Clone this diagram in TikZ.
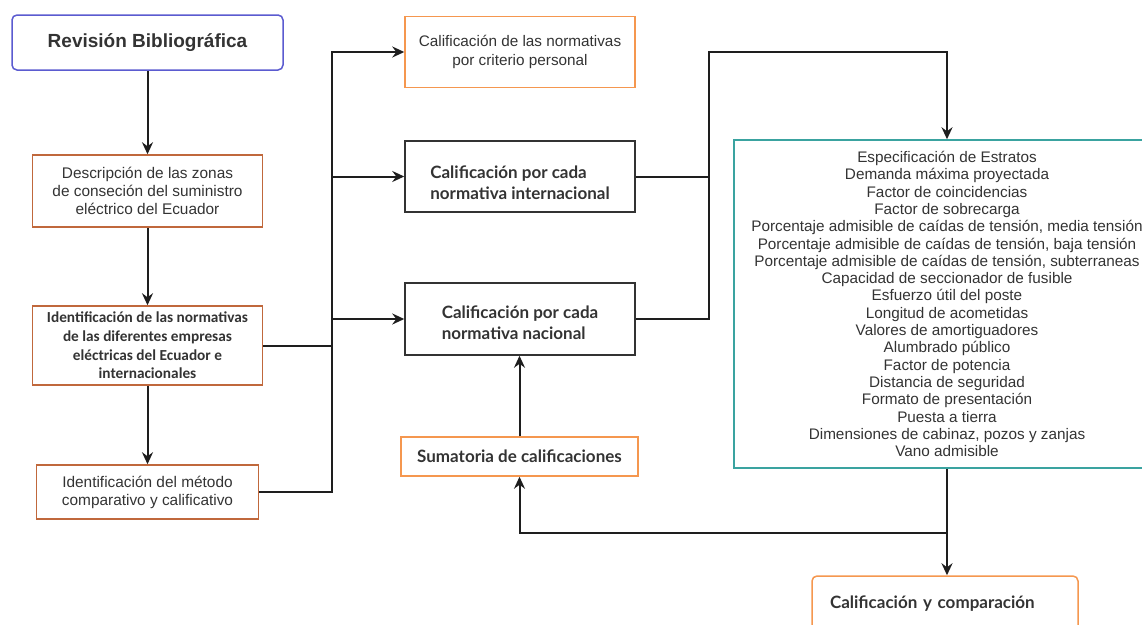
\documentclass[tikz,border=0pt]{standalone}
\usepackage{fontspec}
\setmainfont{Liberation Sans}
\newfontfamily\carlito{Carlito}
\newfontfamily\lato{Lato}
\usetikzlibrary{arrows.meta,positioning,calc}
\definecolor{revc}{HTML}{5B5BD0}
\definecolor{brownc}{HTML}{C0683C}
\definecolor{orangec}{HTML}{F5974F}
\definecolor{darkc}{HTML}{1E1E1E}
\definecolor{boxdark}{HTML}{333333}
\definecolor{tealc}{HTML}{3AA3A0}
\definecolor{txt}{HTML}{333333}
\tikzset{
  boxbase/.style={rectangle, line width=1.5pt, inner sep=2pt, text=txt, align=center},
  revbox/.style={boxbase, draw=revc, rounded corners=5pt, font=\fontsize{19}{22}\selectfont\bfseries},
  brownbox/.style={boxbase, draw=brownc, font=\fontsize{15.4}{18}\selectfont},
  brownbold/.style={boxbase, draw=brownc, font=\fontsize{15.3}{18.7}\selectfont\carlito\bfseries},
  orangebox/.style={boxbase, draw=orangec, font=\fontsize{15.3}{19}\selectfont},
  orangebold/.style={boxbase, draw=orangec, font=\fontsize{17}{20}\selectfont\lato\bfseries},
  darkbold/.style={boxbase, draw=boxdark, font=\fontsize{17}{21}\selectfont\lato\bfseries, align=left},
  tealbox/.style={boxbase, draw=tealc, font=\fontsize{15.3}{17.3}\selectfont},
  conn/.style={line width=2pt, draw=darkc},
  arr/.style={conn, -{Stealth[length=12pt,width=11pt,inset=4pt]}},
}
\begin{document}
\begin{tikzpicture}[x=1pt,y=-1pt]
\useasboundingbox (0,0) rectangle (1142,624);
\clip (0,0) rectangle (1142,624);
\node[revbox, minimum width=271pt, minimum height=55pt] (rev) at (147.5,42.5) {Revisión Bibliográfica};
\node[brownbox, minimum width=230pt, minimum height=72pt] (desc) at (147.5,191) {Descripción de las zonas\\de conseción del suministro\\eléctrico del Ecuador};
\node[brownbold, minimum width=230pt, minimum height=79pt] (idn) at (147.5,345.5) {Identificación de las normativas\\de las diferentes empresas\\eléctricas del Ecuador e\\internacionales};
\node[brownbox, minimum width=222pt, minimum height=54pt] (met) at (147.5,492) {Identificación del método\\comparativo y calificativo};
\node[orangebox, minimum width=230pt, minimum height=71pt] (crit) at (520,52) {Calificación de las normativas\\por criterio personal};
\node[darkbold, minimum width=230pt, minimum height=71pt, text height=46.5pt] (intl) at (520,176.5) {Calificación por cada\\normativa internacional};
\node[darkbold, minimum width=230pt, minimum height=72pt, text height=41.5pt] (nac) at (520,319) {Calificación por cada\\normativa nacional};
\node[orangebold, minimum width=237pt, minimum height=39pt] (sum) at (519.5,456.5) {Sumatoria de calificaciones};
\node[tealbox, minimum width=426pt, minimum height=328pt] (teal) at (947,304) {Especificación de Estratos\\Demanda máxima proyectada\\Factor de coincidencias\\Factor de sobrecarga\\Porcentaje admisible de caídas de tensión, media tensión\\Porcentaje admisible de caídas de tensión, baja tensión\\Porcentaje admisible de caídas de tensión, subterraneas\\Capacidad de seccionador de fusible\\Esfuerzo útil del poste\\Longitud de acometidas\\Valores de amortiguadores\\Alumbrado público\\Factor de potencia\\Distancia de seguridad\\Formato de presentación\\Puesta a tierra\\Dimensiones de cabinaz, pozos y zanjas\\Vano admisible};
\node[orangebold, rounded corners=5pt, minimum height=56pt, text width=270pt-36pt-4pt, inner xsep=18pt, align=left] (cc) at (945,604) {Calificación y comparación};
% junction coordinates
\coordinate (j1) at (332,52);
\coordinate (j2) at (332,492);
\coordinate (k1) at (709,52);
\coordinate (k2) at (709,319);
\coordinate (m1) at (947,533);
% connectors
\draw[arr] (rev.south) -- (desc.north);
\draw[arr] (desc.south) -- (idn.north);
\draw[arr] (idn.south) -- (met.north);
\draw[conn] (idn.east) -- (idn.east -| j1);
\draw[arr] (met.east) -- (j2) -- (j1) -- (crit.west);
\draw[arr] (intl.west -| j1) -- (intl.west);
\draw[arr] (nac.west -| j1) -- (nac.west);
\draw[conn] (intl.east) -- (intl.east -| k1);
\draw[arr] (nac.east) -- (k2) -- (k1) -- (teal.north |- k1) -- (teal.north);
\draw[arr] (teal.south) -- (teal.south |- cc.north);
\draw[arr] (m1) -- (m1 -| sum.south) -- (sum.south);
\draw[arr] (sum.north) -- (sum.north |- nac.south);
\end{tikzpicture}
\end{document}
